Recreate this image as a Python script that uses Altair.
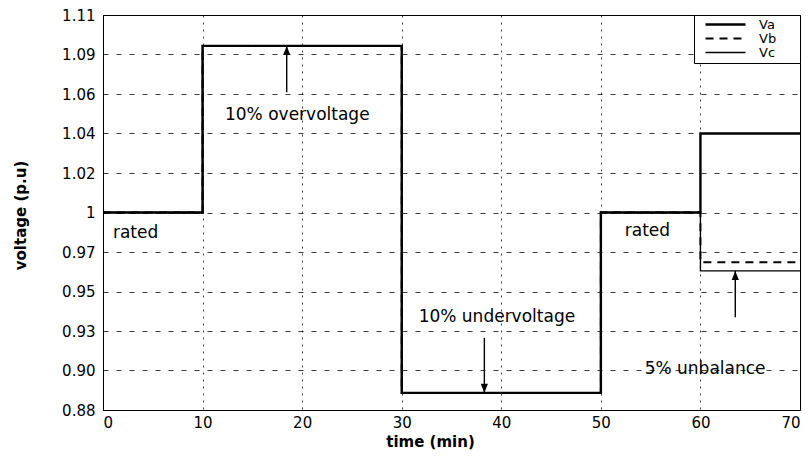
import altair as alt
import pandas as pd

# Phase voltages (p.u.) at each change instant; held until the next one
time_min = [0, 10, 30, 50, 60, 70]
va = [1.0, 1.097, 0.895, 1.0, 1.046, 1.046]
vb = [1.0, 1.097, 0.895, 1.0, 0.971, 0.971]
vc = [1.0, 1.097, 0.895, 1.0, 0.966, 0.966]
phases = ["Va", "Vb", "Vc"]

x_ticks = [0, 10, 20, 30, 40, 50, 60, 70]
y_tick_labels = ["0.88", "0.90", "0.93", "0.95", "0.97", "1",
                 "1.02", "1.04", "1.06", "1.09", "1.11"]

# Annotations: label text and where it sits
note_text = ["rated", "10% overvoltage", "10% undervoltage", "rated", "5% unbalance"]
note_x = [1.0, 12.25, 31.7, 52.4, 54.4]
note_y = [0.988, 1.057, 0.939, 0.989, 0.909]

# Arrows: x, tail, head
arrow_x = [18.45, 38.3, 63.5]
arrow_tail = [1.070, 0.927, 0.939]
arrow_head = [1.097, 0.895, 0.966]
arrow_dir = ["up", "down", "up"]

y_lo, y_hi = 0.885, 1.115
y_tick_pos = [y_lo + i * (y_hi - y_lo) / 10 for i in range(11)]

label_expr = ""
for pos, lab in zip(y_tick_pos, y_tick_labels):
    label_expr += f"abs(datum.value - {pos:.4f}) < 0.001 ? '{lab}' : "
label_expr += "''"

rows = []
for name, series in zip(phases, [va, vb, vc]):
    for t, v in zip(time_min, series):
        rows.append({"time": t, "voltage": v, "phase": name})
df = pd.DataFrame(rows)

notes = pd.DataFrame({"x": note_x, "y": note_y, "text": note_text})
arrows = pd.DataFrame({"x": arrow_x, "tail": arrow_tail, "head": arrow_head, "dir": arrow_dir})

FONT = "DejaVu Sans"

x_scale = alt.Scale(domain=[0, 70], nice=False, zero=False)
y_scale = alt.Scale(domain=[y_lo, y_hi], nice=False, zero=False)

x_enc = alt.X(
    "time:Q", scale=x_scale,
    axis=alt.Axis(values=x_ticks, tickCount=20, title="time (min)", gridDash=[2, 5],
                  labelPadding=5, labelOverlap=False, titleX=327, titleY=31,
                  titleBaseline="middle", titleAlign="center"),
)
y_enc = alt.Y(
    "voltage:Q", scale=y_scale,
    axis=alt.Axis(values=y_tick_pos, tickCount=20, labelExpr=label_expr,
                  title="voltage (p.u)", gridDash=[5, 8], labelPadding=8,
                  labelOverlap=False, titleX=-83, titleY=200,
                  titleBaseline="middle", titleAlign="center"),
)

# Legend key: a 40px horizontal stroke drawn from a small symbol, so rows stay tight;
# trailing non-breaking spaces (closed by a zero-width space) keep a right margin in the box
legend_line = "M0.4,0 H8.4"
legend_label = "datum.label + '" + "\u00a0" * 5 + "\u200b'"

lines = alt.Chart(df).mark_line(interpolate="step-after", color="black").encode(
    x=x_enc,
    y=y_enc,
    strokeDash=alt.StrokeDash(
        "phase:N",
        scale=alt.Scale(domain=phases, range=[[1, 0], [8, 6], [1, 0]]),
        legend=alt.Legend(
            title=None, orient="top-right", offset=0,
            symbolType=legend_line, symbolSize=100, symbolFillColor="transparent",
            labelExpr=legend_label,
        ),
    ),
    strokeWidth=alt.StrokeWidth(
        "phase:N", scale=alt.Scale(domain=phases, range=[2.4, 1.4, 1.4]), legend=None
    ),
    detail="phase:N",
)

text = alt.Chart(notes).mark_text(
    align="left", baseline="middle", font=FONT, fontSize=17, color="black"
).encode(x=alt.X("x:Q", scale=x_scale), y=alt.Y("y:Q", scale=y_scale), text="text:N")

shafts = alt.Chart(arrows).mark_rule(color="black", strokeWidth=1.4).encode(
    x=alt.X("x:Q", scale=x_scale), y=alt.Y("tail:Q", scale=y_scale), y2="head:Q"
)

heads_up = alt.Chart(arrows).transform_filter(alt.datum.dir == "up").mark_point(
    shape="M0,0 L-0.4,1 L0.4,1 Z", size=324, filled=True, color="black", opacity=1
).encode(x=alt.X("x:Q", scale=x_scale), y=alt.Y("head:Q", scale=y_scale))

heads_down = alt.Chart(arrows).transform_filter(alt.datum.dir == "down").mark_point(
    shape="M0,0 L-0.4,-1 L0.4,-1 Z", size=324, filled=True, color="black", opacity=1
).encode(x=alt.X("x:Q", scale=x_scale), y=alt.Y("head:Q", scale=y_scale))

chart = alt.layer(lines, shafts, heads_up, heads_down, text).properties(
    width=697, height=395,
    padding={"left": 103, "top": 15, "right": 8, "bottom": 47},
    autosize="none",
    background="white",
).configure_view(
    stroke="black", strokeWidth=1
).configure_axis(
    labelFont=FONT, labelFontSize=15, labelColor="black",
    titleFont=FONT, titleFontSize=15, titleFontWeight="bold", titleColor="black",
    gridColor="black", gridWidth=0.9, gridOpacity=0.85,
    domainColor="black", domainWidth=1, ticks=False,
).configure_legend(
    symbolStrokeWidth=1.4, symbolStrokeColor="black",
    labelFont=FONT, labelFontSize=13, labelColor="black", labelOffset=49,
    padding=3, rowPadding=0,
    strokeColor="black", fillColor="white", cornerRadius=0,
)

chart.save("out.html", embed_options={"renderer": "svg", "actions": False})
